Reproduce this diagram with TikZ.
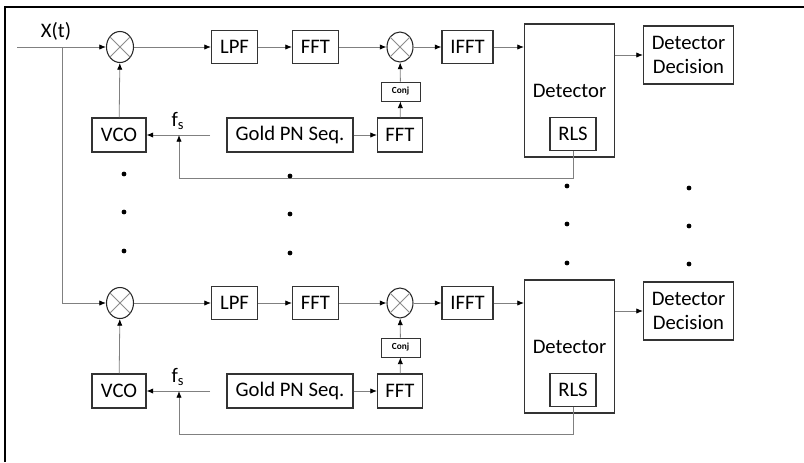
\documentclass[tikz,border=0pt]{standalone}
\usepackage{fontspec}
\setmainfont{Carlito}
\usetikzlibrary{arrows.meta,shapes.geometric}
\begin{document}
\begin{tikzpicture}[x=0.75pt,y=-0.75pt,
  blk/.style={draw=black!80,line width=0.8pt,inner sep=0pt,align=center,
    font=\fontsize{15.5}{17.5}\selectfont},
  sz/.style 2 args={minimum width=#1*0.75pt,minimum height=#2*0.75pt},
  mixer/.style={ellipse,draw=black!85,line width=0.8pt,minimum width=27*0.75pt,
    minimum height=31*0.75pt,inner sep=0pt},
  conn/.style={draw=black!50,line width=0.6pt},
  arr/.style={conn,-{Latex[length=5pt,width=4pt,color=black]}},
  dotmark/.style={circle,fill=black,inner sep=0pt,minimum size=3.6pt},
  lbl/.style={inner sep=0pt,font=\fontsize{15.5}{17.5}\selectfont},
]
\useasboundingbox (0,0) rectangle (804,462);
% page frame (top and left edges)
\draw[line width=2pt] (5,462) -- (5,7) -- (804,7);

% input signal and its branch to the lower chain
\node[lbl] (xt) at (56,31) {X(t)};
\coordinate (xin) at (17,47);
\coordinate (br) at (62,47);
\coordinate (brb) at (62,303);

% two identical receiver chains
\foreach \k/\o in {a/0,b/256}{
  \node[mixer] (m1\k) at (120,{47+\o}) {};
  \draw[black!45,line width=0.6pt] (m1\k.45) -- (m1\k.225) (m1\k.135) -- (m1\k.315);
  \node[blk,sz={46}{33}] (lpf\k) at (234.5,{47+\o}) {LPF};
  \node[blk,sz={46}{33}] (fft\k) at (315.5,{47+\o}) {FFT};
  \node[mixer,minimum width=26*0.75pt,minimum height=30*0.75pt] (m2\k) at (400,{47+\o}) {};
  \draw[black!45,line width=0.6pt] (m2\k.45) -- (m2\k.225) (m2\k.135) -- (m2\k.315);
  \node[blk,sz={39}{19},line width=0.7pt,font=\fontsize{7}{8}\selectfont\bfseries] (conj\k) at (400.5,{91.5+\o}) {Conj};
  \node[blk,sz={45}{34}] (ffg\k) at (400,{135+\o}) {FFT};
  \node[blk,sz={126}{34}] (gold\k) at (290,{135+\o}) {Gold PN Seq.};
  \node[blk,sz={54}{34}] (vco\k) at (119,{135+\o}) {VCO};
  \node[blk,sz={51}{33}] (ifft\k) at (467.5,{47+\o}) {IFFT};
  \node[blk,sz={90}{133}] (det\k) at (569.5,{90.5+\o}) {Detector};
  \node[blk,sz={46}{33}] (rls\k) at (573,{134+\o}) {RLS};
  \node[blk,sz={90}{58}] (dec\k) at (688.5,{55+\o}) {Detector\\Decision};
  \coordinate (gs\k) at (210,{135+\o});
  \coordinate (fs\k) at (179,{135+\o});
  \coordinate (fb\k) at (179,{178+\o});
  \node[lbl] (fsl\k) at (178,{121+\o}) {f\textsubscript{s}};

  \draw[arr] (m1\k) -- (lpf\k);
  \draw[arr] (lpf\k) -- (fft\k);
  \draw[arr] (fft\k) -- (m2\k);
  \draw[arr] (m2\k) -- (ifft\k);
  \draw[arr] (ifft\k) -- (ifft\k -| det\k.west);
  \draw[arr] (det\k.east |- dec\k.west) -- (dec\k.west);
  \draw[arr] (ffg\k) -- (conj\k);
  \draw[arr] (conj\k) -- (m2\k);
  \draw[arr] (gold\k) -- (ffg\k);
  \draw[arr] (gs\k) -- (vco\k);
  \draw[arr] (vco\k) -- (m1\k);
  \draw[arr] (rls\k.south) |- (fb\k) -- (fs\k);
}

\draw[arr] (xin) -- (m1a);
\draw[arr] (br) -- (brb) -- (brb -| m1b.west);

% ellipsis marks between the chains
\foreach \x/\y [count=\i] in {124/174,124/212,124/251,290/176,290/214,290/253,
  567/186,567/224,567/263,689/188,689/226,689/264}{
  \node[dotmark] (d\i) at (\x,\y) {};
}
\end{tikzpicture}
\end{document}
